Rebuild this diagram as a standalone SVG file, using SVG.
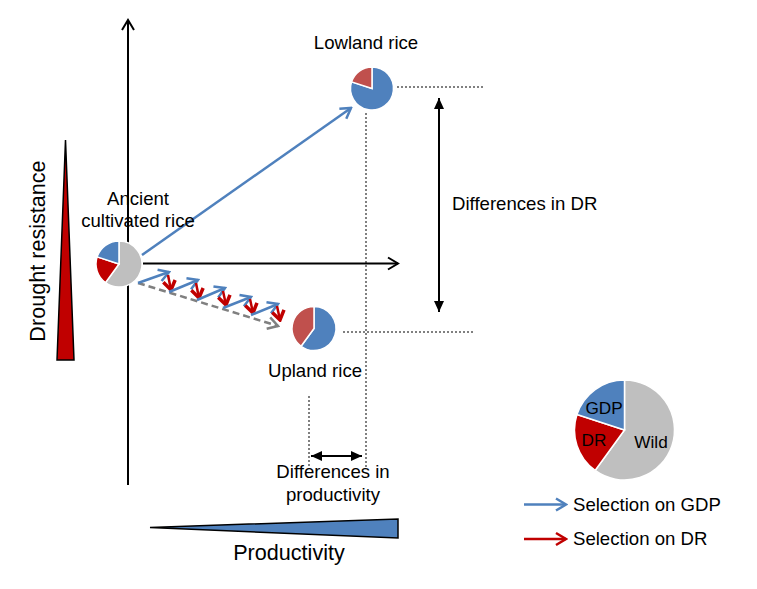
<svg xmlns="http://www.w3.org/2000/svg" width="757" height="589" viewBox="0 0 757 589">
<style>
text{font-family:"Liberation Sans",Arial,sans-serif;fill:#000}
.t18{font-size:18.6px}
.t21{font-size:21.6px}
.t17{font-size:17.2px}
.dot{stroke:#808080;stroke-width:2;stroke-dasharray:2 2;fill:none}
.ax{stroke:#000;stroke-width:2;fill:none}
.blue{stroke:#4F81BD;stroke-width:2.5;fill:none}
.red{stroke:#C00000;stroke-width:2.5;fill:none}
.slice{stroke:#fff;stroke-width:1.5}
</style>
<defs>
<marker id="mBlue" viewBox="-12 -8 14 16" markerWidth="14" markerHeight="16" refX="0" refY="0" orient="auto" markerUnits="userSpaceOnUse"><path d="M-10,-6 L0,0 L-10,6" fill="none" stroke="#4F81BD" stroke-width="2.5"/></marker>
<marker id="mRed" viewBox="-12 -8 14 16" markerWidth="14" markerHeight="16" refX="0" refY="0" orient="auto" markerUnits="userSpaceOnUse"><path d="M-10,-6 L0,0 L-10,6" fill="none" stroke="#C00000" stroke-width="2.5"/></marker>
<marker id="mRedS" viewBox="-12 -9 14 18" markerWidth="14" markerHeight="18" refX="0" refY="0" orient="auto" markerUnits="userSpaceOnUse"><path d="M-9,-6 L0,0 L-9,6" fill="none" stroke="#C00000" stroke-width="3.5"/></marker>
<marker id="mGrey" viewBox="-12 -8 14 16" markerWidth="14" markerHeight="16" refX="0" refY="0" orient="auto" markerUnits="userSpaceOnUse"><path d="M-10,-6 L0,0 L-10,6" fill="none" stroke="#808080" stroke-width="2.5"/></marker>
<marker id="mBlk" viewBox="-12 -8 14 16" markerWidth="14" markerHeight="16" refX="0" refY="0" orient="auto" markerUnits="userSpaceOnUse"><path d="M-10,-6 L0,0 L-10,6" fill="none" stroke="#000" stroke-width="2"/></marker>
<marker id="mFill" viewBox="-12 -7 13 14" markerWidth="13" markerHeight="14" refX="0" refY="0" orient="auto-start-reverse" markerUnits="userSpaceOnUse"><path d="M-11,-5 L0,0 L-11,5 Z" fill="#000"/></marker>
</defs>

<g id="axes">
<line class="ax" x1="128" y1="485" x2="128" y2="20" marker-end="url(#mBlk)"/>
<path id="drought-wedge" d="M65.5,140 L74,360 L57,360 Z" fill="#C00000" stroke="#000" stroke-width="1.5"/>
<text class="t21" transform="translate(45,251) rotate(-90)" text-anchor="middle">Drought resistance</text>
<path id="productivity-wedge" d="M150,527.5 L398,519 L398,538 Z" fill="#4F81BD" stroke="#000" stroke-width="1.5"/>
<text class="t21" x="289" y="560" text-anchor="middle">Productivity</text>
</g>

<g id="guides">
<line class="dot" x1="397" y1="87" x2="484" y2="87"/>
<line class="dot" x1="366" y1="113" x2="366" y2="467"/>
<line class="dot" x1="343" y1="332" x2="473" y2="332"/>
<line class="dot" x1="309" y1="396" x2="309" y2="468"/>
</g>

<g id="connectors">
<line class="ax" x1="143" y1="263.5" x2="398" y2="263.5" marker-end="url(#mBlk)"/>
<line class="blue" x1="142" y1="255" x2="351" y2="108" marker-end="url(#mBlue)"/>
<line stroke="#808080" stroke-width="2.5" stroke-dasharray="7 4" x1="138" y1="283" x2="278" y2="326" marker-end="url(#mGrey)"/>
<g id="zigzag">
<line class="blue" x1="138" y1="283" x2="169" y2="272" marker-end="url(#mBlue)"/>
<line class="red" x1="168" y1="275" x2="171" y2="290" marker-end="url(#mRedS)"/>
<line class="blue" x1="169" y1="292" x2="198" y2="280" marker-end="url(#mBlue)"/>
<line class="red" x1="196" y1="283" x2="199" y2="298" marker-end="url(#mRedS)"/>
<line class="blue" x1="197" y1="300" x2="225" y2="288" marker-end="url(#mBlue)"/>
<line class="red" x1="223" y1="291" x2="226" y2="305" marker-end="url(#mRedS)"/>
<line class="blue" x1="223" y1="308" x2="251" y2="297" marker-end="url(#mBlue)"/>
<line class="red" x1="250" y1="299" x2="253" y2="313" marker-end="url(#mRedS)"/>
<line class="blue" x1="251" y1="315" x2="278" y2="304" marker-end="url(#mBlue)"/>
<line class="red" x1="277" y1="306" x2="280" y2="320" marker-end="url(#mRedS)"/>
</g>
<line class="ax" x1="439" y1="98" x2="439" y2="312" marker-start="url(#mFill)" marker-end="url(#mFill)"/>
<line class="ax" x1="311" y1="456" x2="362" y2="456" marker-start="url(#mFill)" marker-end="url(#mFill)"/>
</g>

<g id="ancient">
<path class="slice" fill="#BFBFBF" d="M119,264 L119,241 A23,23 0 1 1 105.48,282.61 Z"/>
<path class="slice" fill="#C00000" d="M119,264 L105.48,282.61 A23,23 0 0 1 97.13,256.89 Z"/>
<path class="slice" fill="#4F81BD" d="M119,264 L97.13,256.89 A23,23 0 0 1 119,241 Z"/>
<text class="t18" x="138" y="205" text-anchor="middle">Ancient</text>
<text class="t18" x="138" y="227" text-anchor="middle">cultivated rice</text>
</g>

<g id="lowland">
<path class="slice" fill="#4F81BD" d="M372,88.5 L372,67 A21.5,21.5 0 1 1 351.55,81.86 Z"/>
<path class="slice" fill="#C0504D" d="M372,88.5 L351.55,81.86 A21.5,21.5 0 0 1 372,67 Z"/>
<text class="t18" x="366" y="49" text-anchor="middle">Lowland rice</text>
</g>

<g id="upland">
<path class="slice" fill="#4F81BD" d="M314,328.5 L314,306.5 A22,22 0 1 1 301.07,346.3 Z"/>
<path class="slice" fill="#C0504D" d="M314,328.5 L301.07,346.3 A22,22 0 0 1 314,306.5 Z"/>
<text class="t18" x="315" y="377" text-anchor="middle">Upland rice</text>
</g>

<g id="dr-diff">
<text class="t18" x="452" y="210">Differences in DR</text>
</g>

<g id="prod-diff">
<text class="t18" x="333" y="478" text-anchor="middle">Differences in</text>
<text class="t18" x="333" y="501" text-anchor="middle">productivity</text>
</g>

<g id="legend-pie">
<path class="slice" fill="#BFBFBF" d="M624.5,430 L624.5,380 A50,50 0 1 1 595.11,470.45 Z"/>
<path class="slice" fill="#C00000" d="M624.5,430 L595.11,470.45 A50,50 0 0 1 576.95,414.55 Z"/>
<path class="slice" fill="#4F81BD" d="M624.5,430 L576.95,414.55 A50,50 0 0 1 624.5,380 Z"/>
<text class="t17" x="604" y="414" text-anchor="middle">GDP</text>
<text class="t17" x="594" y="446" text-anchor="middle">DR</text>
<text class="t17" x="651" y="448" text-anchor="middle">Wild</text>
</g>

<g id="legend">
<line class="blue" x1="524" y1="504.5" x2="566" y2="504.5" stroke-width="2" marker-end="url(#mBlue)"/>
<text class="t18" x="573" y="511">Selection on GDP</text>
<line class="red" x1="524" y1="539" x2="566" y2="539" stroke-width="2" marker-end="url(#mRed)"/>
<text class="t18" x="573" y="545">Selection on DR</text>
</g>
</svg>
